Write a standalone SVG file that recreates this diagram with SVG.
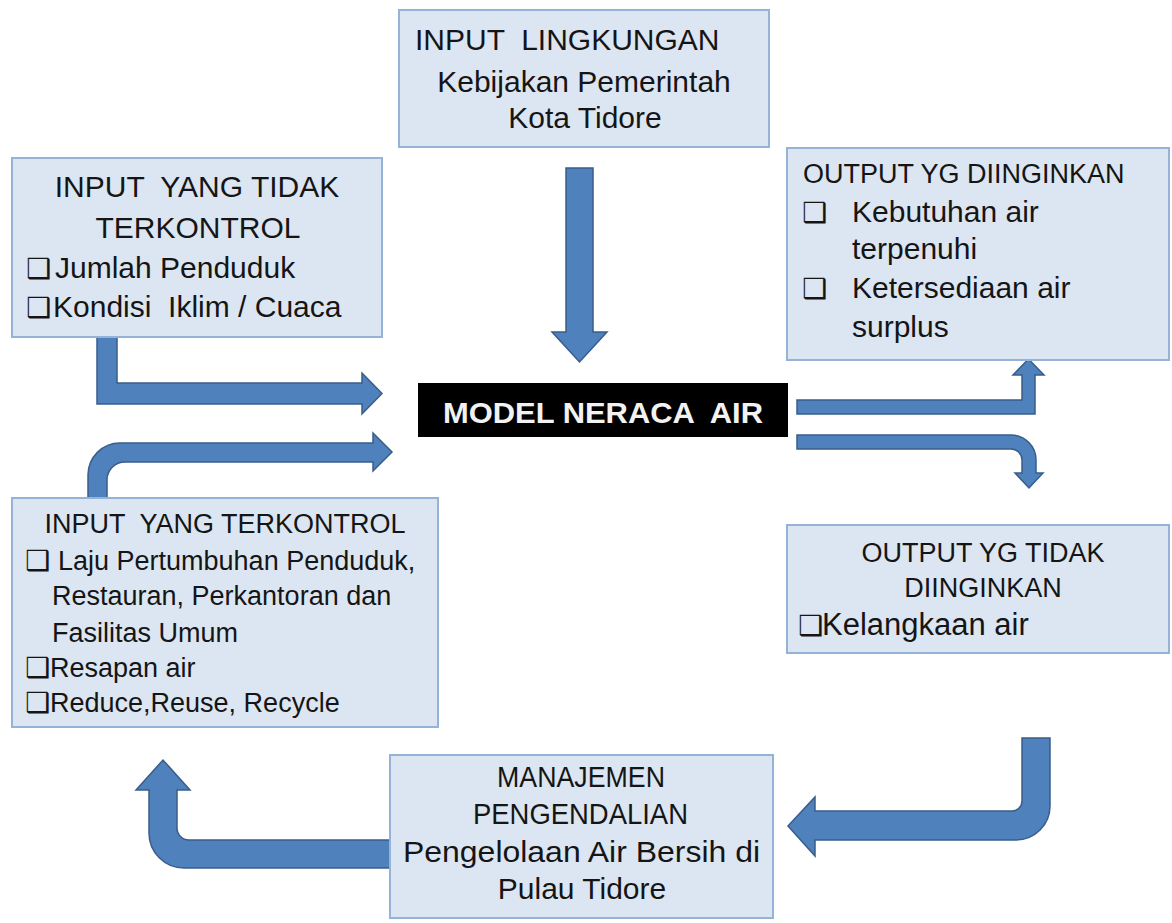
<svg xmlns="http://www.w3.org/2000/svg" width="1172" height="923" viewBox="0 0 1172 923">
<style>
.box{fill:#dce6f2;stroke:#95b3d7;stroke-width:2}
.arr{fill:#4f81bd;stroke:#385d8a;stroke-width:1.5;stroke-linejoin:miter}
text{font-family:"Liberation Sans",Arial,sans-serif;fill:#151515}
.t30{font-size:30px}
.t27{font-size:27px}
.c{text-anchor:middle}
.bul{font-family:"DejaVu Sans",sans-serif;font-size:28px}
.pre{white-space:pre}
</style>
<rect width="1172" height="923" fill="#ffffff"/>
<g id="connectors">
<path class="arr" d="M566,168 L593,168 L593,332 L607,332 L579.5,362 L552,332 L566,332 Z"/>
<path class="arr" d="M97,337 L117,337 L117,383 L362,383 L362,373 L382,393.5 L362,414 L362,404 L97,404 Z"/>
<path class="arr" d="M88,498 L88,475 A32,32 0 0 1 120,443 L373,443 L373,433 L392,452 L373,471 L373,462 L125,462 A18,18 0 0 0 107,480 L107,498 Z"/>
<path class="arr" d="M797,400 L1022,400 L1022,375 L1013,375 L1028.5,359 L1044,375 L1035,375 L1035,414 L797,414 Z"/>
<path class="arr" d="M797,435 L1011,435 A25,25 0 0 1 1036,460 L1036,473 L1043,473 L1029,488 L1015,473 L1022,473 L1022,460 A11,11 0 0 0 1011,449 L797,449 Z"/>
<path class="arr" d="M1022,738 L1050,738 L1050,806 A34,34 0 0 1 1016,840 L815,840 L815,856 L788,826 L815,797 L815,811 L1012,811 A10,10 0 0 0 1022,801 Z"/>
<path class="arr" d="M390,840 L189,840 A12,12 0 0 1 177,828 L177,790 L190,790 L163,760 L136,790 L149,790 L149,833 A35,35 0 0 0 184,868 L390,868 Z"/>
</g>
<g id="input-lingkungan">
<rect class="box" x="399" y="10" width="370" height="137"/>
<text class="t30 pre" x="415" y="50">INPUT  LINGKUNGAN</text>
<text class="t30 c" x="584" y="92">Kebijakan Pemerintah</text>
<text class="t30 c" x="585" y="128">Kota Tidore</text>
</g>
<g id="input-tidak-terkontrol">
<rect class="box" x="12" y="158" width="370" height="179"/>
<text class="t30 c pre" x="197" y="197">INPUT  YANG TIDAK</text>
<text class="t30 c" x="198" y="238">TERKONTROL</text>
<text class="bul" x="26" y="278">❑</text>
<text class="t30" x="55" y="278">Jumlah Penduduk</text>
<text class="bul" x="26" y="317">❑</text>
<text class="t30 pre" x="53" y="317">Kondisi  Iklim / Cuaca</text>
</g>
<g id="output-diinginkan">
<rect class="box" x="787" y="148" width="382" height="212"/>
<text class="t27" x="803" y="183">OUTPUT YG DIINGINKAN</text>
<text class="bul" x="802" y="222">❑</text>
<text class="t30" x="852" y="222">Kebutuhan air</text>
<text class="t30" x="852" y="259">terpenuhi</text>
<text class="bul" x="802" y="298">❑</text>
<text class="t30" x="852" y="298">Ketersediaan air</text>
<text class="t30" x="852" y="337">surplus</text>
</g>
<g id="model-neraca-air">
<rect x="418" y="383" width="370" height="54" fill="#000000"/>
<text class="pre" x="443" y="423" textLength="320" lengthAdjust="spacingAndGlyphs" style="font-size:30px;font-weight:bold;fill:#f2f2f2">MODEL NERACA  AIR</text>
</g>
<g id="input-terkontrol">
<rect class="box" x="12" y="498" width="426" height="229"/>
<text class="t27 c pre" x="225" y="533">INPUT  YANG TERKONTROL</text>
<text class="bul" x="25" y="570">❑</text>
<text class="t27" x="58" y="570">Laju Pertumbuhan Penduduk,</text>
<text class="t27" x="52" y="605">Restauran, Perkantoran dan</text>
<text class="t27" x="52" y="642">Fasilitas Umum</text>
<text class="bul" x="25" y="677">❑</text>
<text class="t27" x="50" y="677">Resapan air</text>
<text class="bul" x="25" y="712">❑</text>
<text class="t27" x="50" y="712">Reduce,Reuse, Recycle</text>
</g>
<g id="output-tidak-diinginkan">
<rect class="box" x="787" y="525" width="382" height="128"/>
<text class="t27 c" x="983" y="562">OUTPUT YG TIDAK</text>
<text class="t27 c" x="983" y="597">DIINGINKAN</text>
<text class="bul" x="798" y="635">❑</text>
<text x="822" y="635" style="font-size:31px">Kelangkaan air</text>
</g>
<g id="manajemen-pengendalian">
<rect class="box" x="390" y="755" width="383" height="163"/>
<text class="t30" x="497" y="787" textLength="168" lengthAdjust="spacingAndGlyphs">MANAJEMEN</text>
<text class="t30" x="473" y="824" textLength="215" lengthAdjust="spacingAndGlyphs">PENGENDALIAN</text>
<text class="t30" x="403" y="862" textLength="357" lengthAdjust="spacingAndGlyphs">Pengelolaan Air Bersih di</text>
<text class="t30 c" x="582" y="899">Pulau Tidore</text>
</g>
</svg>
